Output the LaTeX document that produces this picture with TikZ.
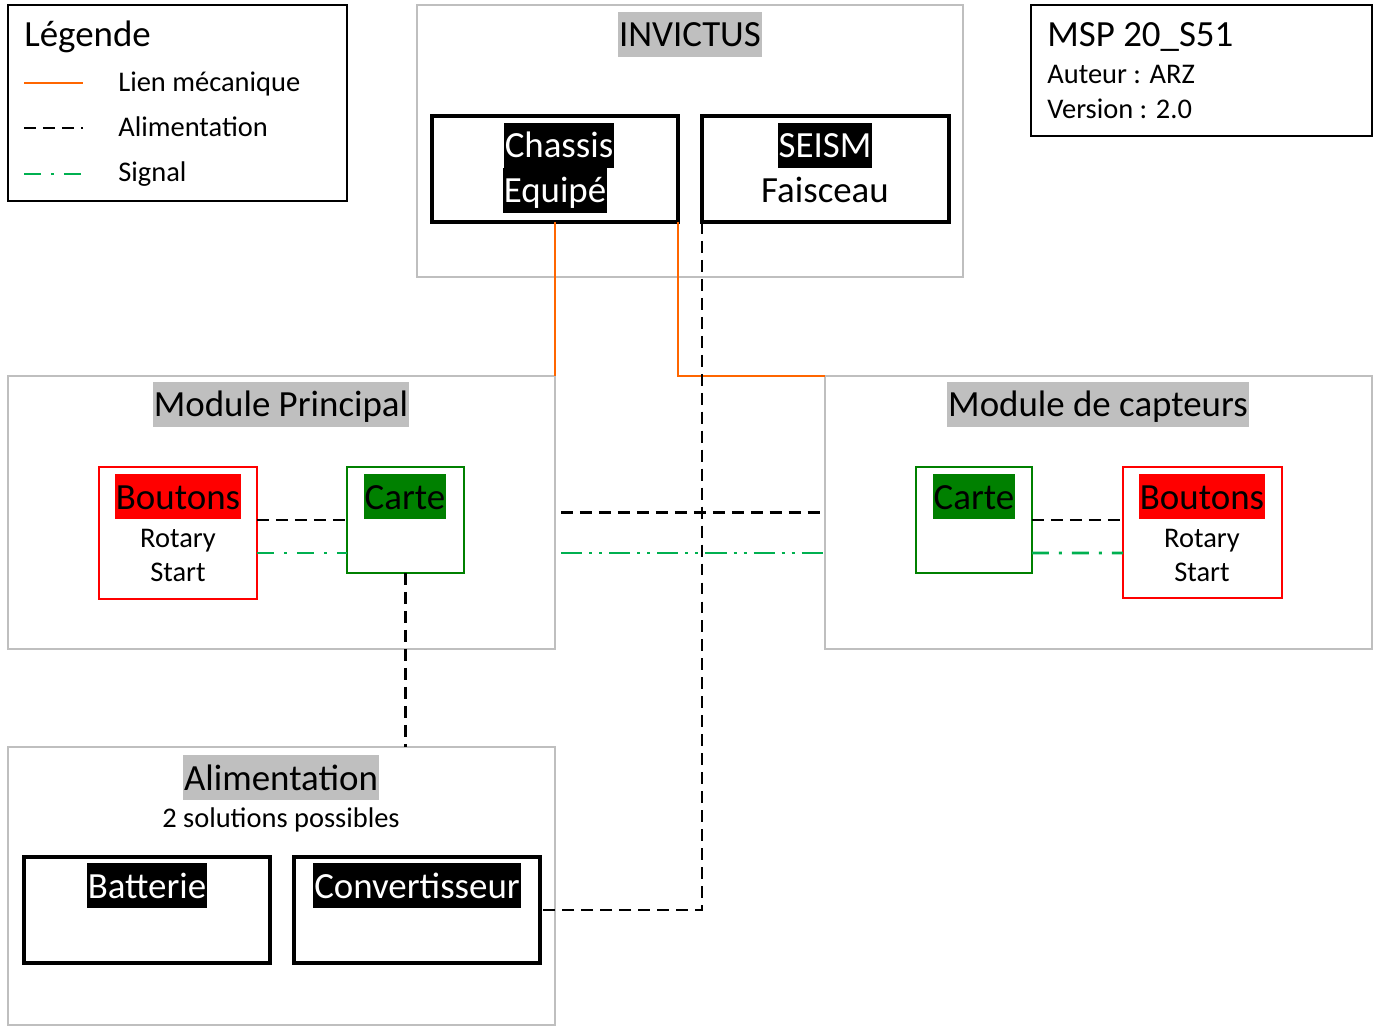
\documentclass[tikz,border=0pt]{standalone}
\usepackage{fontspec}
\setmainfont{Carlito}
\usetikzlibrary{calc}
\definecolor{cgray}{HTML}{BFBFBF}
\definecolor{corange}{HTML}{FF6600}
\definecolor{csig}{HTML}{00B050}
\definecolor{cgreen}{HTML}{008000}
\newcommand\ftitle{\fontsize{21}{25}\selectfont}
\newcommand\fsmall{\fontsize{16.2}{19}\selectfont}
\tikzset{
  boxbase/.style={anchor=north west, inner sep=0pt, outer sep=0pt},
  container/.style={boxbase, draw=cgray, line width=1.6pt},
  blackbox/.style={boxbase, draw=black, line width=1.9pt},
  infobox/.style={boxbase, draw=black, line width=1.3pt},
  redbox/.style={boxbase, draw=red, line width=1.6pt},
  greenbox/.style={boxbase, draw=cgreen, line width=1.6pt},
  hl/.style={anchor=base, inner xsep=0.6pt, inner ysep=0pt, text height=19.8pt, text depth=5.7pt, font=\ftitle},
  hlgray/.style={hl, fill=cgray, text=black},
  hlblack/.style={hl, fill=black, text=white},
  hlred/.style={hl, fill=red, text=black},
  hlgreen/.style={hl, fill=cgreen, text=black},
  plain/.style={anchor=base, inner sep=0pt, font=\fsmall},
  plainbig/.style={anchor=base, inner sep=0pt, font=\ftitle},
  mech/.style={draw=corange, line width=1.6pt},
  power/.style={draw=black, line width=1.6pt, dash pattern=on 6.8pt off 4pt},
  signal/.style={draw=csig, line width=1.6pt, dash pattern=on 12pt off 4pt on 1.7pt off 4pt on 1.7pt off 4pt},
  signalshort/.style={draw=csig, line width=1.6pt, dash pattern=on 9.6pt off 5.7pt on 1.7pt off 5.7pt},
}
\begin{document}
\begin{tikzpicture}[x=0.02cm,y=-0.02cm]
\useasboundingbox (0,0) rectangle (1374,1027);

% Legend
\node[infobox, minimum width=339*0.02cm, minimum height=196*0.02cm] (leg) at (8,5) {};
\node[plainbig, anchor=base west] (legt) at (24,47) {Légende};
\coordinate (l1a) at (24,83); \coordinate (l1b) at (83,83);
\coordinate (l2a) at (24,128); \coordinate (l2b) at (83,128);
\coordinate (l3a) at (24,174); \coordinate (l3b) at (83,174);
\draw[mech] (l1a) -- (l1b);
\draw[power] (l2a) -- (l2b);
\draw[signalshort] (l3a) -- (l3b);
\node[plain, anchor=base west] (lt1) at (118,92) {Lien mécanique};
\node[plain, anchor=base west] (lt2) at (118,137) {Alimentation};
\node[plain, anchor=base west] (lt3) at (118,182) {Signal};

% Info box
\node[infobox, minimum width=341*0.02cm, minimum height=131*0.02cm] (info) at (1031,5) {};
\node[plainbig, anchor=base west] (it1) at (1047,47) {MSP 20\_S51};
\node[plain, anchor=base west] (it2) at (1047,84) {Auteur : ARZ};
\node[plain, anchor=base west] (it3) at (1047,119) {Version : 2.0};

% INVICTUS
\node[container, minimum width=546*0.02cm, minimum height=272*0.02cm] (inv) at (417,5) {};
\node[hlgray] (invt) at (690,47) {INVICTUS};
\node[blackbox, minimum width=246*0.02cm, minimum height=106*0.02cm] (chassis) at (432,116) {};
\node[hlblack] (ch1) at (559,158) {Chassis };
\node[hlblack] (ch2) at (555,203) {Equipé};
\node[blackbox, minimum width=247*0.02cm, minimum height=106*0.02cm] (seism) at (702,116) {};
\node[hlblack] (se1) at (825,158) {SEISM};
\node[plainbig] (se2) at (825,203) {Faisceau};

% Module Principal
\node[container, minimum width=547*0.02cm, minimum height=273*0.02cm] (mp) at (8,376) {};
\node[hlgray] (mpt) at (281,417) {Module Principal};
\node[redbox, minimum width=158*0.02cm, minimum height=132*0.02cm] (boutL) at (99,467) {};
\node[hlred] (bl1) at (178,509) {Boutons};
\node[plain] (bl2) at (178,547) {Rotary};
\node[plain] (bl3) at (178,582) {Start};
\node[greenbox, minimum width=117*0.02cm, minimum height=106*0.02cm] (carteL) at (347,467) {};
\node[hlgreen] (cl1) at (405,509) {Carte};

% Module de capteurs
\node[container, minimum width=547*0.02cm, minimum height=273*0.02cm] (mc) at (825,376) {};
\node[hlgray] (mct) at (1098,417) {Module de capteurs};
\node[greenbox, minimum width=116*0.02cm, minimum height=106*0.02cm] (carteR) at (916,467) {};
\node[hlgreen] (cr1) at (974,509) {Carte};
\node[redbox, minimum width=159*0.02cm, minimum height=131*0.02cm] (boutR) at (1123,467) {};
\node[hlred] (br1) at (1202,509) {Boutons};
\node[plain] (br2) at (1202,547) {Rotary};
\node[plain] (br3) at (1202,582) {Start};

% Alimentation
\node[container, minimum width=547*0.02cm, minimum height=278*0.02cm] (alim) at (8,747) {};
\node[hlgray] (alt) at (281,790) {Alimentation};
\node[plain] (als) at (281,827) {2 solutions possibles};
\node[blackbox, minimum width=246*0.02cm, minimum height=106*0.02cm] (batt) at (24,857) {};
\node[hlblack] (bat1) at (147,898) {Batterie};
\node[blackbox, minimum width=246*0.02cm, minimum height=106*0.02cm] (conv) at (294,857) {};
\node[hlblack] (con1) at (417,898) {Convertisseur};

% Connectors
\draw[mech] (chassis.south) -- (chassis.south |- mp.north);
\draw[mech] (chassis.south east) |- (mc.north west);
\draw[power] (seism.south west) |- (conv.east);
\draw[power] ($(mp.east)+(6,0)$) -- (mc.west);
\draw[signal] ($(mp.east)+(6,40.5)$) -- ($(mc.west)+(0,40.5)$);
\draw[power] (boutL.east |- carteL.west) -- (carteL.west);
\draw[signalshort] ($(boutL.east)+(0,20)$) -- ($(carteL.west)+(0,33)$);
\draw[power] (carteR.east) -- (boutR.west |- carteR.east);
\draw[signalshort] ($(carteR.east)+(0,33)$) -- ($(boutR.west)+(0,20.5)$);
\draw[power] (carteL.south) -- (carteL.south |- alim.north);
\end{tikzpicture}
\end{document}
